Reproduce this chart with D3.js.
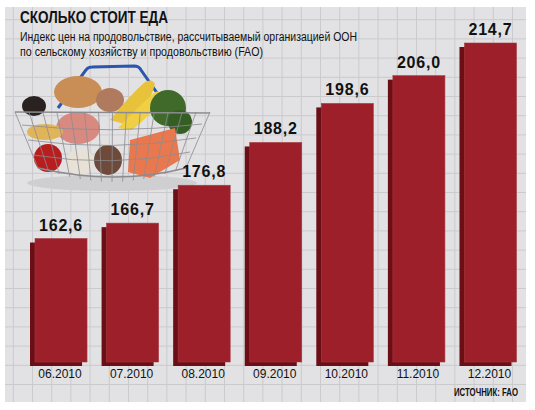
<!DOCTYPE html>
<html>
<head>
<meta charset="utf-8">
<title>Сколько стоит еда</title>
<script src="https://cdn.jsdelivr.net/npm/d3@7/dist/d3.min.js"></script>
<style>
    body { margin: 0; background: #fff; }
    svg { display: block; }
    .narrow { font-family: "Liberation Sans Narrow", "Arial Narrow", "Liberation Sans", sans-serif; }
</style>
</head>
<body>
<script>
// data
var months = ["06.2010", "07.2010", "08.2010", "09.2010", "10.2010", "11.2010", "12.2010"];
var values = [162.6, 166.7, 176.8, 188.2, 198.6, 206.0, 214.7];
var valueLabels = ["162,6", "166,7", "176,8", "188,2", "198,6", "206,0", "214,7"];

var title = "СКОЛЬКО СТОИТ ЕДА";
var subtitle = ["Индекс цен на продовольствие, рассчитываемый организацией ООН",
                "по сельскому хозяйству и продовольствию (FAO)"];
var source = "ИСТОЧНИК: FAO";

var w = 535, h = 410;
var front = "#9c1f29", dark = "#6c0e15";
var depthX = 5, depthY = 4;

var svg = d3.select("body").append("svg").attr("width", w).attr("height", h);

// grey panel with grid
var panel = {x: 5, y: 7, w: 521, h: 395};
svg.append("defs").append("clipPath").attr("id", "panelclip")
    .append("rect").attr("x", panel.x).attr("y", panel.y).attr("width", panel.w).attr("height", panel.h);

svg.append("rect").attr("x", panel.x).attr("y", panel.y).attr("width", panel.w).attr("height", panel.h)
    .attr("fill", "#e2e2e4");

var grid = svg.append("g").attr("clip-path", "url(#panelclip)")
    .attr("stroke", "#cbcbce").attr("stroke-width", 1);
grid.selectAll("line.v").data(d3.range(13.3, panel.x + panel.w, 19.2)).enter().append("line")
    .attr("x1", function(d) { return d; }).attr("x2", function(d) { return d; })
    .attr("y1", panel.y).attr("y2", panel.y + panel.h);
grid.selectAll("line.h").data(d3.range(384.5, panel.y, -19.2)).enter().append("line")
    .attr("y1", function(d) { return d; }).attr("y2", function(d) { return d; })
    .attr("x1", panel.x).attr("x2", panel.x + panel.w);

// titles
svg.append("text").attr("class", "narrow").attr("x", 20).attr("y", 23)
    .attr("font-size", "16px").attr("font-weight", "bold").attr("fill", "#111")
    .attr("textLength", 148).attr("lengthAdjust", "spacingAndGlyphs")
    .text(title);
svg.selectAll("text.sub").data(subtitle).enter().append("text")
    .attr("class", "narrow sub").attr("x", 20)
    .attr("y", function(d, i) { return 41 + i * 15; })
    .attr("font-size", "12px").attr("fill", "#111")
    .attr("textLength", function(d, i) { return i == 0 ? 337 : 243; })
    .attr("lengthAdjust", "spacingAndGlyphs")
    .text(function(d) { return d; });

// basket picture (rough drawing)
var basket = svg.append("g");
basket.append("ellipse").attr("cx", 112).attr("cy", 183).attr("rx", 85).attr("ry", 8).attr("fill", "#cfcfd1");
// handles
basket.append("path").attr("d", "M58,108 L86,70 Q88,67 92,67 L134,66 Q139,66 141,70 L162,100")
    .attr("fill", "none").attr("stroke", "#2a56b0").attr("stroke-width", 3);
// produce
basket.append("ellipse").attr("cx", 78).attr("cy", 92).attr("rx", 24).attr("ry", 16).attr("fill", "#c98e55");
basket.append("ellipse").attr("cx", 34).attr("cy", 106).attr("rx", 12).attr("ry", 10).attr("fill", "#2a2220");
basket.append("ellipse").attr("cx", 110).attr("cy", 100).attr("rx", 14).attr("ry", 12).attr("fill", "#b07a5e");
basket.append("path").attr("d", "M110,120 Q130,95 145,82 Q152,78 155,84 Q150,105 128,125 Z").attr("fill", "#e8c23a");
basket.append("path").attr("d", "M118,128 Q140,105 155,92 Q160,90 162,96 Q152,115 132,130 Z").attr("fill", "#f0cf45");
basket.append("circle").attr("cx", 168).attr("cy", 108).attr("r", 18).attr("fill", "#3f6a2a");
basket.append("circle").attr("cx", 180).attr("cy", 122).attr("r", 12).attr("fill", "#355e24");
basket.append("ellipse").attr("cx", 78).attr("cy", 128).attr("rx", 22).attr("ry", 16).attr("fill", "#d98a80");
basket.append("ellipse").attr("cx", 45).attr("cy", 132).attr("rx", 18).attr("ry", 8).attr("fill", "#e0b55a");
basket.append("ellipse").attr("cx", 48).attr("cy", 158).attr("rx", 14).attr("ry", 14).attr("fill", "#b81e1e");
basket.append("ellipse").attr("cx", 80).attr("cy", 162).attr("rx", 14).attr("ry", 13).attr("fill", "#e8e2d6");
basket.append("ellipse").attr("cx", 108).attr("cy", 160).attr("rx", 14).attr("ry", 15).attr("fill", "#6e4a3a");
basket.append("path").attr("d", "M130,140 L175,128 L180,160 L150,178 L128,172 Z").attr("fill", "#e9784f");
// wire
var wire = basket.append("g").attr("fill", "none").attr("stroke", "#8c8c90").attr("stroke-width", 0.8);
wire.append("path").attr("d", "M15,112 L210,113").attr("stroke-width", 1.6);
wire.append("path").attr("d", "M22,125 Q110,135 202,124");
wire.append("path").attr("d", "M28,140 Q110,152 196,138");
wire.append("path").attr("d", "M33,155 Q112,168 190,152");
wire.append("path").attr("d", "M38,168 Q115,186 186,168").attr("stroke-width", 1.4);
d3.range(0, 15).forEach(function(i) {
    var t = i / 14;
    var xt = 15 + t * 195, xb = 38 + t * 148;
    wire.append("path").attr("d", "M" + xt + ",112 L" + xb + "," + (168 + Math.sin(t * Math.PI) * 14));
});

// scales
var x = d3.scaleBand().domain(months).range([35, 516.5]).paddingInner(0.273);
var y = d3.scaleLinear().domain([129.7, 214.7]).range([362, 43]);

var bars = svg.append("g").selectAll("g").data(values).enter().append("g");

// extruded part: front face shifted left/down
bars.append("rect")
    .attr("x", function(d, i) { return x(months[i]) - depthX; })
    .attr("y", function(d) { return y(d) + depthY; })
    .attr("width", x.bandwidth())
    .attr("height", function(d) { return y.range()[0] - y(d); })
    .attr("fill", dark);
bars.append("rect")
    .attr("x", function(d, i) { return x(months[i]); })
    .attr("y", function(d) { return y(d); })
    .attr("width", x.bandwidth())
    .attr("height", function(d) { return y.range()[0] - y(d); })
    .attr("fill", front)
    .attr("stroke", "#a83a42").attr("stroke-width", 0.6);

// value labels
svg.selectAll("text.val").data(values).enter().append("text")
    .attr("class", "val")
    .attr("x", function(d, i) { return x(months[i]) + x.bandwidth() / 2; })
    .attr("y", function(d) { return y(d) - 8; })
    .attr("text-anchor", "middle")
    .attr("font-family", "Liberation Sans, Arial, sans-serif")
    .attr("font-weight", "bold").attr("font-size", "16px")
    .attr("letter-spacing", "0.8px").attr("fill", "#111")
    .text(function(d, i) { return valueLabels[i]; });

// month labels
svg.selectAll("text.cat").data(months).enter().append("text")
    .attr("class", "narrow cat")
    .attr("x", function(d) { return x(d) + x.bandwidth() / 2 - 1; })
    .attr("y", 378)
    .attr("text-anchor", "middle")
    .attr("font-size", "12px").attr("fill", "#111")
    .text(function(d) { return d; });

// source line, squeezed to fit inside the panel
svg.append("text").attr("class", "narrow")
    .attr("x", 454).attr("y", 396)
    .attr("font-size", "10px").attr("font-weight", "bold").attr("fill", "#111")
    .attr("textLength", 64).attr("lengthAdjust", "spacingAndGlyphs")
    .text(source);
</script>
</body>
</html>
